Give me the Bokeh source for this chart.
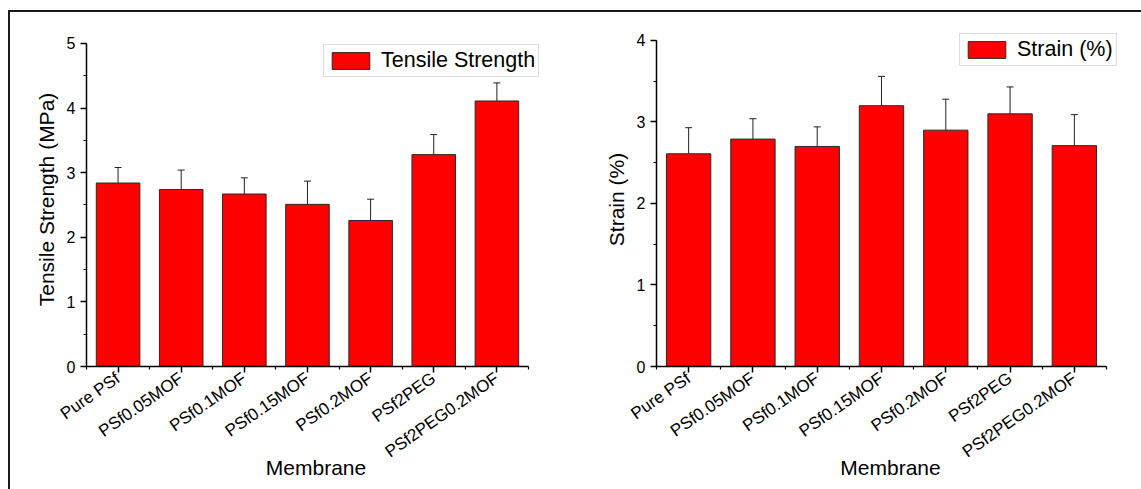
from bokeh.plotting import figure
from bokeh.models import (ColumnDataSource, Whisker, Range1d, FixedTicker,
                          SingleIntervalTicker, Legend, LegendItem, TeeHead, Div)
from bokeh.layouts import row, column
from bokeh.embed import file_html
from bokeh.resources import INLINE

categories = ["Pure PSf", "PSf0.05MOF", "PSf0.1MOF", "PSf0.15MOF",
              "PSf0.2MOF", "PSf2PEG", "PSf2PEG0.2MOF"]
tensile = [2.84, 2.74, 2.67, 2.51, 2.26, 3.28, 4.11]
tensile_err = [0.24, 0.30, 0.25, 0.36, 0.33, 0.31, 0.28]
strain = [2.61, 2.79, 2.70, 3.20, 2.90, 3.10, 2.71]
strain_err = [0.32, 0.25, 0.24, 0.36, 0.38, 0.33, 0.38]

FONT = "Liberation Sans"
H = 477


def make_panel(values, errs, ymax, ylabel, legend_label, width,
               mb, xr_end, yr_end, legend_loc):
    n = len(categories)
    xs = [i + 0.5 for i in range(n)]
    src = ColumnDataSource(dict(
        x=xs, top=values,
        upper=[v + e for v, e in zip(values, errs)],
        lower=[v - e for v, e in zip(values, errs)],
    ))
    p = figure(width=width, height=H, output_backend="svg",
               toolbar_location=None, margin=0,
               x_range=Range1d(0, xr_end), y_range=Range1d(0, yr_end))
    p.min_border_left, p.min_border_right, p.min_border_top, p.min_border_bottom = mb
    p.outline_line_color = None
    p.grid.visible = False
    p.background_fill_color = "white"
    p.border_fill_color = "white"

    r = p.vbar(x="x", top="top", width=0.69, bottom=0, source=src,
               fill_color="#FF0000", line_color="#2a2a2a", line_width=1)
    w = Whisker(base="x", upper="upper", lower="lower", source=src,
                line_color="#222222", line_width=1,
                upper_head=TeeHead(size=7, line_color="#222222", line_width=1),
                lower_head=TeeHead(size=7, line_color="#222222", line_width=1))
    p.add_layout(w)

    xa = p.xaxis[0]
    xa.ticker = FixedTicker(ticks=xs, minor_ticks=list(range(n + 1)))
    xa.major_label_overrides = {x: c for x, c in zip(xs, categories)}
    xa.major_label_orientation = 0.611
    xa.axis_label = "Membrane"
    xa.bounds = (0, n)
    ya = p.yaxis[0]
    ya.ticker = SingleIntervalTicker(interval=1, num_minor_ticks=2)
    ya.axis_label = ylabel
    ya.bounds = (0, ymax)

    for ax in (xa, ya):
        ax.axis_line_color = "black"
        ax.axis_line_width = 1.5
        ax.major_tick_line_color = "black"
        ax.major_tick_line_width = 1.5
        ax.minor_tick_line_color = "black"
        ax.minor_tick_line_width = 1.2
        ax.major_tick_out = 6
        ax.major_tick_in = 0
        ax.minor_tick_out = 3
        ax.minor_tick_in = 0
        ax.major_label_text_font = FONT
        ax.major_label_text_color = "black"
        ax.axis_label_text_font = FONT
        ax.axis_label_text_font_size = "21px"
        ax.axis_label_text_font_style = "normal"
        ax.axis_label_text_color = "black"
    xa.major_label_text_font_size = "17px"
    ya.major_label_text_font_size = "16px"
    xa.major_label_standoff = 4
    ya.major_label_standoff = 5
    ya.axis_label_standoff = 6
    xa.axis_label_standoff = -16

    leg = Legend(items=[LegendItem(label=legend_label, renderers=[r])],
                 location=legend_loc, margin=0, padding=3, spacing=0,
                 glyph_width=47, glyph_height=21, label_standoff=7,
                 label_height=21, label_text_font=FONT,
                 label_text_font_size="21.5px", label_text_color="black",
                 border_line_color="#bbbbbb", border_line_width=1,
                 background_fill_color="white", background_fill_alpha=1)
    p.add_layout(leg)
    return p


# both frames share top (y=32) and bottom (y=366) in a row layout
p1 = make_panel(tensile, tensile_err, 5, "Tensile Strength (MPa)",
                "Tensile Strength", 560, (76, 25, 20, 123),
                7.27, 5.17, (237, 289))
p2 = make_panel(strain, strain_err, 4, "Strain (%)",
                "Strain (%)", 571, (86, 17, 20, 123),
                7.28, 4.098, (303, 300))

top_space = Div(width=1133, height=10, margin=0,
                styles={"background-color": "white"})
top_line = Div(width=1133, height=2, margin=0,
               styles={"background-color": "#1a1a1a"})
left_line = Div(width=2, height=H, margin=0,
                styles={"background-color": "#1a1a1a"})
left_space = Div(width=8, height=H + 12, margin=0,
                 styles={"background-color": "white"})

layout = row(left_space,
             column(top_space, top_line,
                    row(left_line, p1, p2, margin=0), margin=0),
             margin=0)

open("out.html", "w").write(file_html(layout, INLINE))
